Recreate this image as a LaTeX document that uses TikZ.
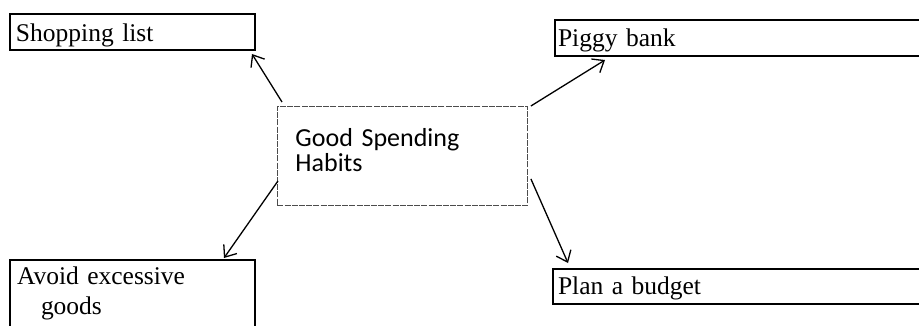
\documentclass[tikz,border=0pt]{standalone}
\usepackage{fontspec}
\newfontfamily\serifbox{Liberation Serif}
\newfontfamily\sansbox{Carlito}
\usetikzlibrary{arrows.meta,calc}
\begin{document}
\begin{tikzpicture}[x=1pt,y=-1pt,
  sbox/.style={draw,line width=2pt,inner ysep=0pt,anchor=north west,align=left,
    font=\serifbox\fontsize{25.5}{30}\selectfont},
  cbox/.style={draw=black!70,line width=0.9pt,dash pattern=on 6pt off 1.2pt,inner xsep=18pt,inner ysep=0pt,
    anchor=north west,align=left,font=\sansbox\fontsize{26}{25}\selectfont},
  link/.style={line width=1.3pt,-{Straight Barb[length=10pt,width=16pt]}}]
\useasboundingbox (0,0) rectangle (919,325);
\clip (0,0) rectangle (919,325);
\node[sbox,inner xsep=6pt,text width=233pt,text height=27pt,text depth=9pt] (shop) at (9,13) {Shopping list};
\node[sbox,inner xsep=3pt,text width=374pt,text height=26pt,text depth=10pt] (piggy) at (554,19) {Piggy bank};
\node[sbox,inner xsep=5pt,text width=378pt,text height=25pt,text depth=10pt] (plan) at (552,268) {Plan a budget};
\node[sbox,inner xsep=7pt,text width=231pt,text height=24pt,text depth=56pt] (avoid) at (9,259) {Avoid excessive\\\hspace*{24pt}goods};
\node[cbox,text width=214pt,text height=40pt,text depth=59pt] (center) at (277,106) {Good Spending\\Habits};
\draw[link] ($(center.north west)+(5,-4)$) -- ($(shop.south east)+(-4,3)$);
\draw[link] ($(center.north east)+(3,0)$) -- ($(piggy.south west)+(51,3)$);
\draw[link] ($(center.south west)+(1,-25)$) -- ($(avoid.north east)+(-32,-1)$);
\draw[link] ($(center.south east)+(3,-27)$) -- ($(plan.north west)+(16,-5)$);
\end{tikzpicture}
\end{document}
